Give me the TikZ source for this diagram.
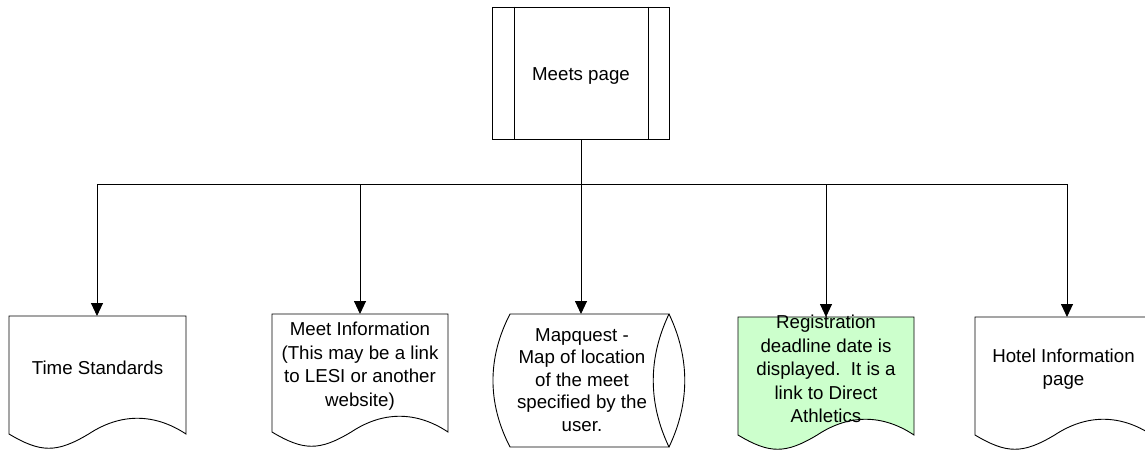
\documentclass[tikz,border=0pt]{standalone}
\usepackage{fontspec}
\setmainfont{Liberation Sans}
\usetikzlibrary{arrows.meta,calc,backgrounds}
\definecolor{regfill}{RGB}{204,255,204}
\tikzset{
  line/.style={draw=black,line width=0.9pt},
  outline/.style={draw=none,inner sep=0pt,outer sep=0pt,minimum width=177pt,minimum height=118pt},
  txt/.style={align=center,font=\fontsize{18.7}{23.5}\selectfont,inner sep=0pt},
  feed/.style={line,-{Triangle[length=13pt,width=12pt]}},
}
% document symbol: flat top, wavy bottom edge
\newcommand\wavydoc[2][white]{%
  \path[line,fill=#1] let \p1=(#2.south west), \p2=(#2.north east), \n1={\x2-\x1} in
    (\p1) -- (\x1,\y2) -- (\p2) -- (\x2,\y1)
    .. controls ({\x2-0.18*\n1},{\y1+21pt}) and ({\x1+0.63*\n1},{\y1+21pt}) .. ({\x1+0.45*\n1},\y1)
    .. controls ({\x1+0.27*\n1},{\y1-19pt}) and ({\x1+0.18*\n1},{\y1-19pt}) .. (\p1) -- cycle;}
\begin{document}
\begin{tikzpicture}[x=1pt,y=-1pt]
  \useasboundingbox (0,0) rectangle (1145,450);
  \clip (0,0) rectangle (1145,450);

  % predefined-process box at the top
  \node[line,minimum width=177pt,minimum height=132pt,inner sep=0pt] (meets) at (581,73) {};
  \node[txt] (meetstxt) at (581,76) {Meets page};
  \draw[line] ([xshift=22pt]meets.north west) -- ([xshift=22pt]meets.south west);
  \draw[line] ([xshift=-22pt]meets.north east) -- ([xshift=-22pt]meets.south east);

  % outlines of the five targets
  \node[outline] (t1) at (97.5,375) {};
  \node[outline,minimum width=176pt] (t2) at (360,373) {};
  \node[outline,minimum width=159pt,minimum height=133pt] (t3) at (589.5,380.5) {};
  \node[outline,minimum width=176pt] (t4) at (826,376) {};
  \node[outline] (t5) at (1063.5,376) {};

  % their texts
  \node[txt] (t1txt) at (97.5,368) {Time Standards};
  \node[txt] (t2txt) at (360,366) {Meet Information\\(This may be a link\\to LESI or another\\website)};
  \node[txt,font=\fontsize{18.7}{22.5}\selectfont] (t3txt) at (582,380) {Mapquest -\\Map of location\\of the meet\\specified by the\\user.};
  \node[txt] (t4txt) at (826,369) {Registration\\deadline date is\\displayed.\ \ It is a\\link to Direct\\Athletics};
  \node[txt] (t5txt) at (1063.5,369) {Hotel Information\\page};

  \begin{scope}[on background layer]
    \wavydoc{t1}
    \wavydoc{t2}
    \wavydoc[regfill]{t4}
    \wavydoc{t5}
    % stored-data symbol
    \path[line,fill=white] let \p1=(t3.north west), \p2=(t3.south east) in
      (\p1) -- (\x2,\y1)
      .. controls ({\x2-21pt},{\y1-44pt}) and ({\x2-21pt},{\y2+44pt}) .. (\p2)
      -- (\x1,\y2)
      .. controls ({\x1-22.7pt},{\y2+44pt}) and ({\x1-22.7pt},{\y1-44pt}) .. (\p1) -- cycle;
    \draw[line] let \p1=(t3.north east), \p2=(t3.south east) in
      (\p1) .. controls ({\x1+21pt},{\y1-44pt}) and ({\x2+21pt},{\y2+44pt}) .. (\p2);
  \end{scope}

  % distribution bus
  \coordinate (d1) at (97,184);
  \coordinate (d2) at (360,184);
  \coordinate (d3) at (581,184);
  \coordinate (d4) at (826,184);
  \coordinate (d5) at (1067,184);
  \draw[line] (meets.south) -- (d3);
  \draw[line] (d1) -- (d5);
  \draw[feed] (d1) -- (d1 |- t1.north);
  \draw[feed] (d2) -- (d2 |- t2.north);
  \draw[feed] (d3) -- (d3 |- t3.north);
  \draw[feed] (d4) -- (d4 |- t4.north);
  \draw[feed] (d5) -- (d5 |- t5.north);
\end{tikzpicture}
\end{document}
